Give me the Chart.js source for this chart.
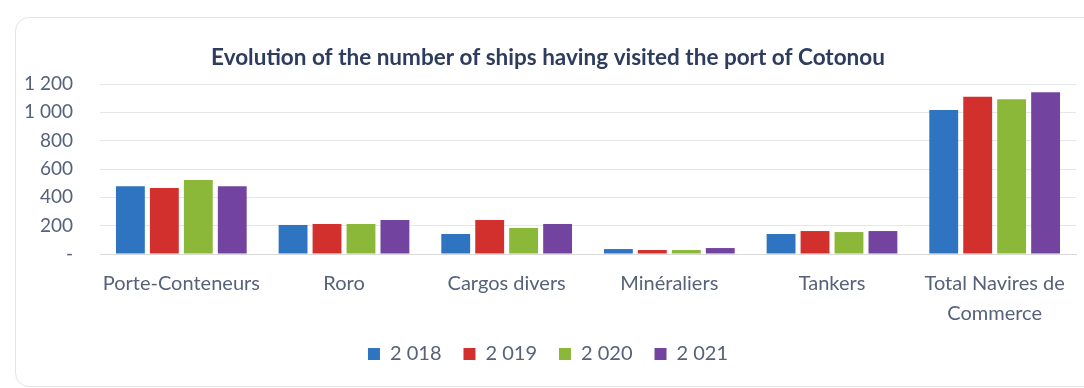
<!DOCTYPE html>
<html lang="fr">

<head>
    <meta charset="UTF-8">
    <title>Navires - Port de Cotonou</title>
    <style>
        body {
            margin: 0;
            background: #fff;
            overflow: hidden;
        }

        .card {
            position: absolute;
            left: 15px;
            top: 17px;
            width: 1100px;
            height: 368px;
            border: 1px solid #e2e4e8;
            border-radius: 14px;
        }

        #shipsChart {
            position: absolute;
            left: 0;
            top: 0;
        }
    </style>
</head>

<body>
    <div class="card"></div>
    <canvas id="shipsChart" width="1084" height="388"></canvas>

    <script src="https://cdn.jsdelivr.net/npm/chart.js"></script>
    <script>
        // Données
        const categories = ['Porte-Conteneurs', 'Roro', 'Cargos divers', 'Minéraliers', 'Tankers', ['Total Navires de', 'Commerce']];
        const years = ['2 018', '2 019', '2 020', '2 021'];
        const values2018 = [478, 205, 141, 35, 141, 1016];
        const values2019 = [466, 212, 240, 28, 162, 1110];
        const values2020 = [522, 212, 184, 28, 155, 1092];
        const values2021 = [478, 240, 212, 42, 162, 1141];
        const yTicks = [0, 200, 400, 600, 800, 1000, 1200];
        const colors = ['#2f74c0', '#d2302c', '#8cb83a', '#7343a0'];

        const textColor = '#56617a';

        const ctx = document.getElementById('shipsChart').getContext('2d');

        const chart = new Chart(ctx, {
            type: 'bar',
            data: {
                labels: categories,
                datasets: [values2018, values2019, values2020, values2021].map((vals, i) => ({
                    label: years[i],
                    data: vals,
                    backgroundColor: colors[i],
                    categoryPercentage: 0.835,
                    barPercentage: 0.85
                }))
            },
            options: {
                responsive: false,
                animation: false,
                layout: {
                    padding: { left: 20, right: 8, top: 44, bottom: 14 }
                },
                plugins: {
                    title: {
                        display: true,
                        text: 'Evolution of the number of ships having visited the port of Cotonou',
                        color: '#2e3d5e',
                        font: { family: 'Lato', size: 22.5, weight: 'bold' },
                        padding: { top: 0, bottom: 13 }
                    },
                    legend: {
                        position: 'bottom',
                        labels: {
                            color: textColor,
                            font: { family: 'Lato', size: 20 },
                            boxWidth: 12,
                            boxHeight: 12,
                            padding: 22
                        }
                    },
                    tooltip: { enabled: false }
                },
                scales: {
                    x: {
                        // hauteur fixe, assez grande pour les deux lignes du dernier libellé
                        afterFit: scale => { scale.height = 68; },
                        grid: { display: false },
                        border: { color: '#d9d9d9' },
                        ticks: {
                            color: textColor,
                            font: { family: 'Lato', size: 20, lineHeight: 1.5 },
                            padding: 7,
                            maxRotation: 0,
                            autoSkip: false
                        }
                    },
                    y: {
                        min: 0,
                        max: 1200,
                        afterFit: scale => { scale.width = 80; },
                        afterBuildTicks: scale => { scale.ticks = yTicks.map(v => ({ value: v })); },
                        grid: { color: '#e6e6e6', drawTicks: false },
                        border: { display: false },
                        ticks: {
                            color: textColor,
                            font: { family: 'Lato', size: 19 },
                            padding: 27,
                            callback: v => v === 0 ? '-' : (v >= 1000 ? Math.floor(v / 1000) + ' ' + String(v % 1000).padStart(3, '0') : String(v))
                        }
                    }
                }
            }
        });
    </script>
</body>

</html>
